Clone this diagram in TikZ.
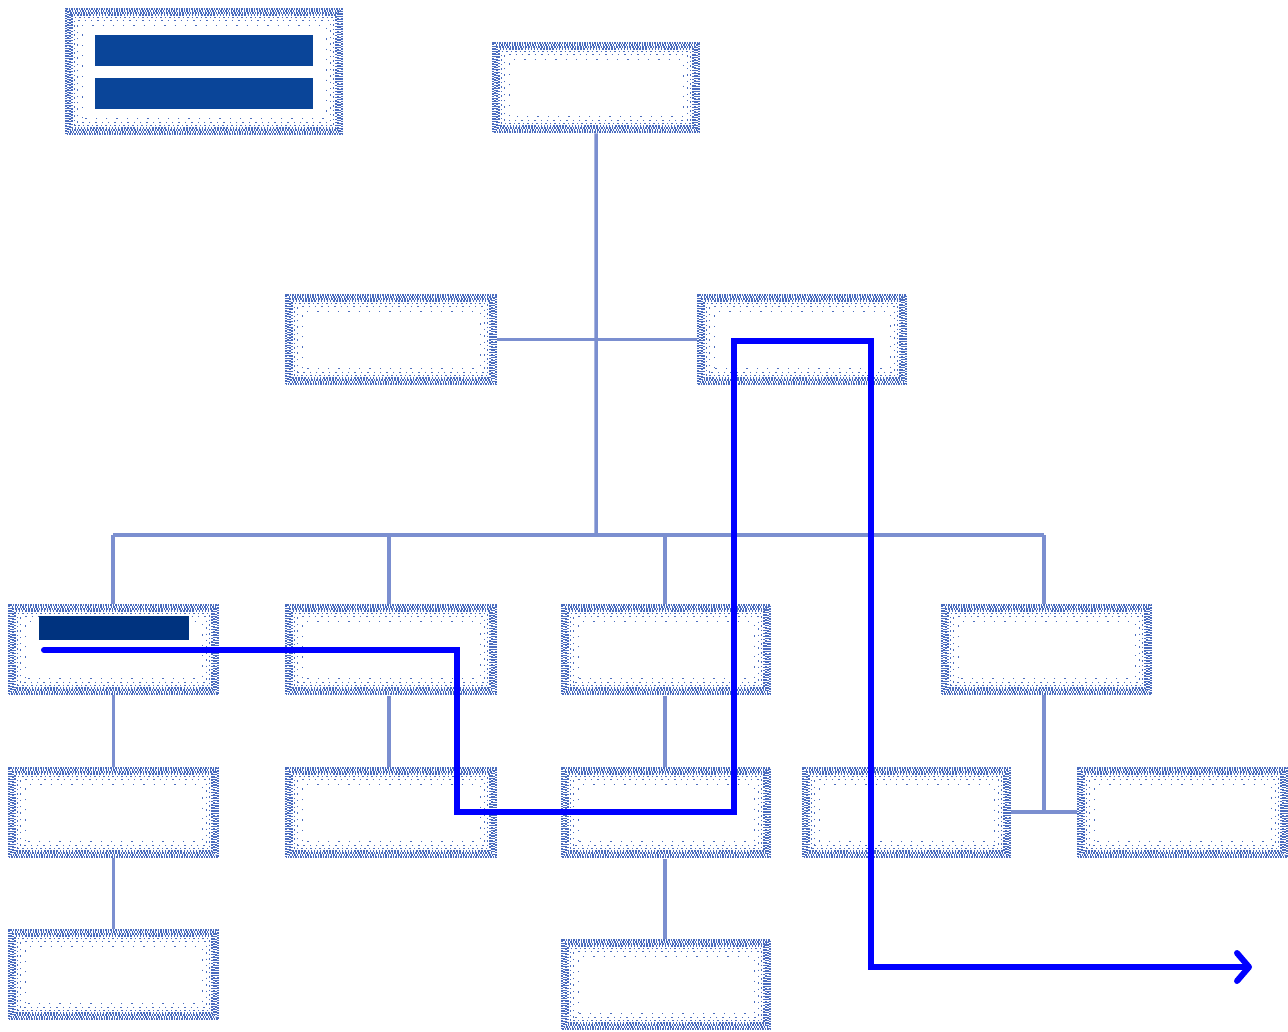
\documentclass[tikz,border=0pt]{standalone}
\usetikzlibrary{arrows.meta}
\definecolor{dotc}{HTML}{4A6CBE}
\definecolor{linec}{HTML}{7B8FD0}
\definecolor{barc}{HTML}{0A4599}
\definecolor{labc}{HTML}{00337F}
\newcommand{\insetrect}[3]{%
  \draw[dotc, line width=#2, dash pattern=#3] ([shift={(#1,#1)}]path picture bounding box.south west) rectangle ([shift={(-#1,-#1)}]path picture bounding box.north east);}
\tikzset{
 box/.style={minimum width=210pt, minimum height=91pt, inner sep=0pt, anchor=north west,
  path picture={
   \insetrect{1pt}{2pt}{on 1.6pt off 0.9pt}
   \insetrect{3pt}{2pt}{on 1.3pt off 1.3pt}
   \insetrect{5pt}{2pt}{on 1.6pt off 1pt}
   \insetrect{7pt}{1.5pt}{on 1.5pt off 1.6pt}
   \insetrect{9.5pt}{1.5pt}{on 1.5pt off 3pt}
   \insetrect{12.5pt}{1.4pt}{on 1.4pt off 5pt}
   \insetrect{17pt}{1.3pt}{on 1.3pt off 9pt}
  }},
 bar/.style={fill=barc, draw=none, inner sep=0pt, anchor=north west, minimum width=218pt, minimum height=31pt},
 labbar/.style={fill=labc, draw=none, inner sep=0pt, anchor=north west, minimum width=150pt, minimum height=24pt},
 tline/.style={draw=linec, line width=3.5pt},
 route/.style={draw=blue, line width=6pt, line cap=round, line join=miter}
}
\begin{document}
\begin{tikzpicture}[x=1pt,y=-1pt]
\path[fill=white] (0,0) rectangle (1288,1032);
\useasboundingbox (0,0) rectangle (1288,1032);
\coordinate (bus) at (596,535);
\coordinate (busl) at (113,535);
\coordinate (busr) at (1044,535);
% boxes
\node[box, minimum width=278pt, minimum height=127pt] (legend) at (65,8) {};
\node[bar] (bar1) at (95,35) {};
\node[bar] (bar2) at (95,78) {};
\node[box, minimum width=208pt] (top) at (492,42) {};
\node[box, minimum width=212pt] (l2a) at (285,294) {};
\node[box] (l2b) at (697,294) {};
\node[box, minimum width=211pt] (l3a) at (8,604) {};
\node[box, minimum width=212pt] (l3b) at (285,604) {};
\node[box] (l3c) at (561,604) {};
\node[box, minimum width=211pt] (l3d) at (941,604) {};
\node[box, minimum width=211pt] (l4a) at (8,767) {};
\node[box, minimum width=212pt] (l4b) at (285,767) {};
\node[box] (l4c) at (561,767) {};
\node[box, minimum width=209pt] (l4d) at (802,767) {};
\node[box, minimum width=211pt] (l4e) at (1077,767) {};
\node[box, minimum width=211pt] (l5a) at (8,929) {};
\node[box] (l5c) at (561,939) {};
\node[labbar] (lab) at (39,616) {};
% connectors
\draw[tline] (top.south) -- (bus);
\draw[tline] (l2a.east) -- (l2b.west);
\draw[tline] (busl) -- (busr);
\draw[tline] (busl) -- (busl |- l3a.north);
\draw[tline] (389,535) -- (389,604);
\draw[tline] (665,535) -- (665,604);
\draw[tline] (busr) -- (busr |- l3d.north);
\draw[tline] (l3a.south) -- (l4a.north);
\draw[tline] (l4a.south) -- (l5a.north);
\draw[tline] (389,696) -- (389,767);
\draw[tline] (665,696) -- (665,767);
\draw[tline] (665,859) -- (665,939);
\coordinate (j4) at (1044,812);
\draw[tline] (busr |- l3d.south) -- (j4);
\draw[tline] (l4d.east |- j4) -- (l4e.west |- j4);
% route
\coordinate (r0) at (44,650);
\coordinate (r1) at (457,650);
\coordinate (r2) at (457,812);
\coordinate (r3) at (734,812);
\coordinate (r4) at (734,341);
\coordinate (r5) at (871,341);
\coordinate (r6) at (871,967);
\coordinate (r7) at (1252,967);
\draw[route, -{Straight Barb[round, length=12pt, width=28pt]}] (r0) -- (r1) -- (r2) -- (r3) -- (r4) -- (r5) -- (r6) -- (r7);
\end{tikzpicture}
\end{document}
